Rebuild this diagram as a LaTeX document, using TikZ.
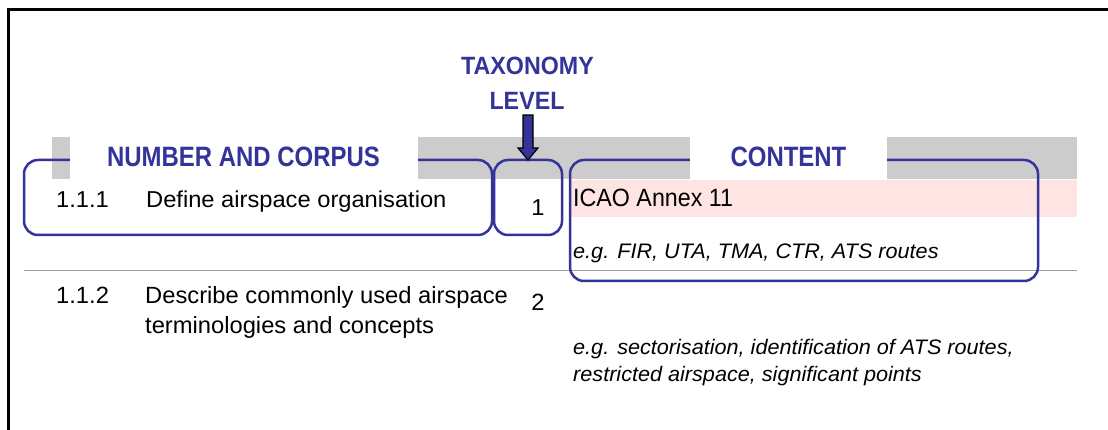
\documentclass[tikz,border=0pt]{standalone}
\usepackage{fontspec}
\setmainfont{Liberation Sans}
\newfontfamily\titlefont[FakeStretch=0.855]{Liberation Sans}
\newfontfamily\taxfont[FakeStretch=0.93]{Liberation Sans}
\newfontfamily\rowafont[FakeStretch=1.03]{Liberation Sans}
\newfontfamily\icaofont[FakeStretch=0.93]{Liberation Sans}
\newfontfamily\rowbfont[FakeStretch=1.01]{Liberation Sans}
\newfontfamily\itfont[FakeStretch=1.03]{Liberation Sans}
\definecolor{navy}{RGB}{51,51,153}
\definecolor{hdrgray}{RGB}{204,204,204}
\definecolor{pinkband}{RGB}{255,228,228}
\definecolor{sepgray}{RGB}{160,160,160}
\tikzset{
  blubox/.style={draw=navy, line width=2.5pt, rounded corners=14pt, inner sep=0pt, outer sep=0pt},
  titletext/.style={text=navy, inner sep=0pt, font=\titlefont\bfseries\fontsize{28}{32}\selectfont},
  taxtext/.style={text=navy, inner sep=0pt, font=\taxfont\bfseries\fontsize{25}{30}\selectfont},
  rowa/.style={inner sep=0pt, font=\rowafont\fontsize{23}{27}\selectfont},
  rowb/.style={inner sep=0pt, font=\rowbfont\fontsize{23.5}{27}\selectfont},
  icaotext/.style={inner sep=0pt, font=\icaofont\fontsize{25}{30}\selectfont},
  ittext/.style={inner sep=0pt, font=\itfont\itshape\fontsize{21}{25}\selectfont},
  blockarrow/.style={fill=navy, draw=black, line width=1.2pt, line join=miter},
}
\begin{document}
\begin{tikzpicture}[x=1pt,y=-1pt]
\useasboundingbox (0,0) rectangle (1108,430);
\fill[white] (0,0) rectangle (1108,430);
% frame
\draw[line width=3pt] (8.5,430) -- (8.5,9.5) -- (1108,9.5);
% header band and pink band
\fill[hdrgray] (52,137) rectangle (1077,179.5);
\fill[pinkband] (571,180) rectangle (1077,217);
% separator
\draw[sepgray, line width=1pt] (24,270.5) -- (1077,270.5);
% boxes
\node[blubox, minimum width=468pt, minimum height=75pt] (corpus) at (258,197.5) {};
\node[blubox, minimum width=68pt, minimum height=75pt] (level) at (528,197.5) {};
\node[blubox, minimum width=468pt, minimum height=121pt] (content) at (804,220.5) {};
% white title patches
\fill[white] (70,130) rectangle (418,180);
\fill[white] (690,129) rectangle (887,180);
% titles
\node[titletext, anchor=base] (nc) at (243.5,167) {NUMBER AND CORPUS};
\node[titletext, anchor=base] (ct) at (788.5,167) {CONTENT};
\node[taxtext, anchor=base] (tax1) at (527.5,75) {TAXONOMY};
\node[taxtext, anchor=base] (tax2) at (527,110) {LEVEL};
% block arrow
\filldraw[blockarrow, shift={(level.north)}] (-5,-45) -- (5,-45) -- (5,-12) -- (10,-12) -- (0,0) -- (-10,-12) -- (-5,-12) -- cycle;
% row 1
\node[rowa, anchor=base west] (n111) at (56,208) {1.1.1};
\node[rowa, anchor=base west] (d111) at (146,208) {Define airspace organisation};
\node[rowa, anchor=base] (t1) at (538,216) {1};
\node[icaotext, anchor=base west] (icao) at (573,207) {ICAO Annex 11};
\node[ittext, anchor=base west] (eg1) at (573,259) {e.g. FIR, UTA, TMA, CTR, ATS routes};
% row 2
\node[rowb, anchor=base west] (n112) at (56,304) {1.1.2};
\node[rowb, anchor=base west] (d112) at (145,304) {Describe commonly used airspace};
\node[rowb, anchor=base west] (d112b) at (145,333) {terminologies and concepts};
\node[rowb, anchor=base] (t2) at (538,310) {2};
\node[ittext, anchor=base west] (eg2a) at (573,354) {e.g. sectorisation, identification of ATS routes,};
\node[ittext, anchor=base west] (eg2b) at (573,381) {restricted airspace, significant points};
\end{tikzpicture}
\end{document}
